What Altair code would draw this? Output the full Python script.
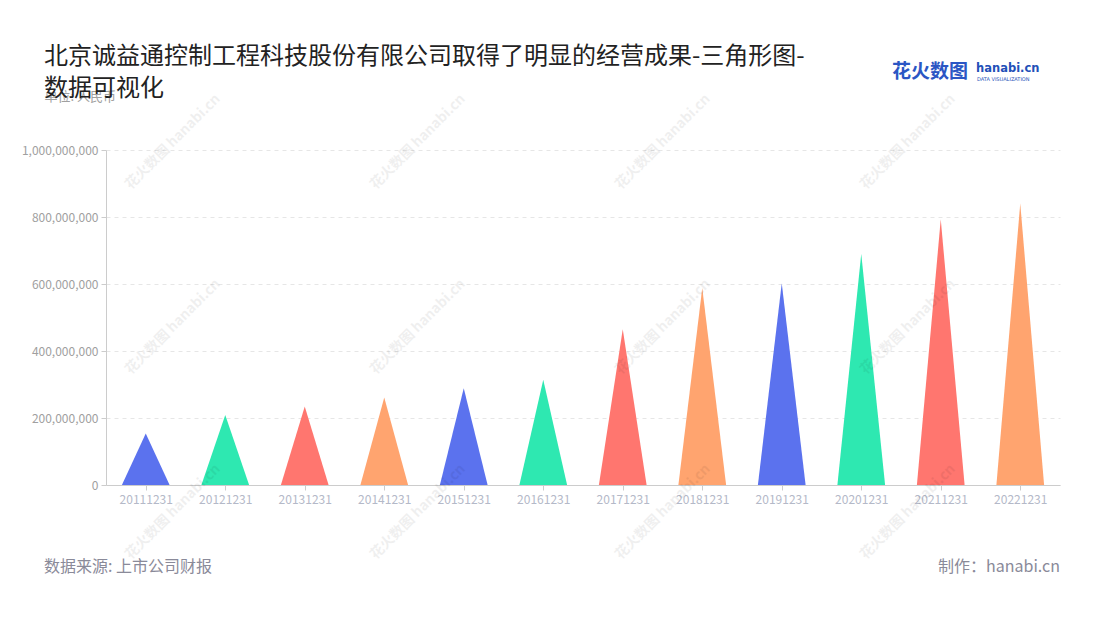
import json
import altair as alt
import pandas as pd

FONT = "Noto Sans CJK SC"

# ---- data ----
dates = ["20111231", "20121231", "20131231", "20141231", "20151231", "20161231",
         "20171231", "20181231", "20191231", "20201231", "20211231", "20221231"]
values = [154e6, 209e6, 234e6, 261e6, 289e6, 314e6,
          465e6, 588e6, 602e6, 690e6, 793e6, 840e6]
palette = ["#5b72ee", "#2ee8b1", "#ff766f", "#ffa46f"]
colors = [palette[i % 4] for i in range(len(dates))]
y_ticks = [0, 200000000, 400000000, 600000000, 800000000, 1000000000]

title_lines = ["北京诚益通控制工程科技股份有限公司取得了明显的经营成果-三角形图-", "数据可视化"]
unit_label = "单位: 人民币"
source_label = "数据来源: 上市公司财报"
maker_label = "制作：hanabi.cn"

# triangle outline table built from the values (left base, apex, right base)
half = 0.3
rows = []
for i, (d, v) in enumerate(zip(dates, values)):
    rows.append({"date": d, "pos": i - half, "val": 0})
    rows.append({"date": d, "pos": i, "val": v})
    rows.append({"date": d, "pos": i + half, "val": 0})
tri = pd.DataFrame(rows)

W, H = 954, 335

triangles = alt.Chart(tri).mark_area(opacity=1, interpolate="linear").encode(
    x=alt.X(
        "pos:Q",
        scale=alt.Scale(domain=[-0.5, len(dates) - 0.5], nice=False, zero=False),
        axis=alt.Axis(
            values=list(range(len(dates))),
            labelExpr=json.dumps(dates) + "[datum.value]",
            grid=False, title=None,
            domainColor="#cccccc", tickColor="#cccccc", tickSize=5,
            labelColor="#b4b9c8", labelFontSize=12, labelFont=FONT, labelPadding=4,
        ),
    ),
    y=alt.Y(
        "val:Q", stack=None,
        scale=alt.Scale(domain=[0, 1000000000], nice=False),
        axis=alt.Axis(
            values=y_ticks, format=",d",
            grid=True, gridColor="#e6e6e6", gridDash=[4, 4],
            domainColor="#cccccc", tickColor="#cccccc", tickSize=5,
            labelColor="#a0a0a0", labelFontSize=12, labelFont=FONT, labelPadding=3,
            title=unit_label, titleAngle=0, titleAlign="left", titleBaseline="middle",
            titleX=-62, titleY=-54, titleColor="#a0a0a0", titleFontSize=13,
            titleFontWeight="normal", titleFont=FONT,
        ),
    ),
    color=alt.Color("date:N", scale=alt.Scale(domain=dates, range=colors), legend=None),
    detail="date:N",
)

one = pd.DataFrame({"k": [0]})
layers = [triangles]

# faint watermarks
for wy in [-8, 177, 362]:
    for wx in [67, 312, 557, 802]:
        layers.append(
            alt.Chart(one).mark_text(
                text="花火数图 hanabi.cn", angle=315, font=FONT, fontSize=14,
                fontWeight="bold", color="#000000", opacity=0.06, align="center",
                baseline="middle",
            ).encode(x=alt.value(wx), y=alt.value(wy))
        )

# logo
layers.append(alt.Chart(one).mark_text(
    text="花火数图", font=FONT, fontSize=19, fontWeight="bold", color="#2b56c4",
    align="left", baseline="middle").encode(x=alt.value(786), y=alt.value(-78)))
layers.append(alt.Chart(one).mark_text(
    text="hanabi.cn", font="DejaVu Sans", fontSize=11.5, fontWeight="bold", color="#2350b8",
    align="left", baseline="middle").encode(x=alt.value(870), y=alt.value(-81)))
layers.append(alt.Chart(one).mark_text(
    text="DATA VISUALIZATION", font="DejaVu Sans", fontSize=5, color="#2350b8",
    align="left", baseline="middle").encode(x=alt.value(871), y=alt.value(-71)))

# footer
layers.append(alt.Chart(one).mark_text(
    text=source_label, font=FONT, fontSize=16, color="#8a8a99",
    align="left", baseline="middle").encode(x=alt.value(-62), y=alt.value(417)))
layers.append(alt.Chart(one).mark_text(
    text=maker_label, font=FONT, fontSize=16, color="#8a8a99",
    align="right", baseline="middle").encode(x=alt.value(W), y=alt.value(417)))

chart = alt.layer(*layers).properties(
    width=W, height=H,
    title=alt.TitleParams(
        text=title_lines, anchor="start", frame="group", dx=-62, dy=88, offset=50,
        font=FONT, fontSize=24, fontWeight="normal", color="#222222", lineHeight=32,
    ),
    autosize=alt.AutoSizeParams(type="none"),
    padding={"left": 98, "top": 142, "right": 32, "bottom": 127},
).configure_view(stroke=None)

chart.save("out.html", embed_options={"renderer": "svg", "actions": False})
